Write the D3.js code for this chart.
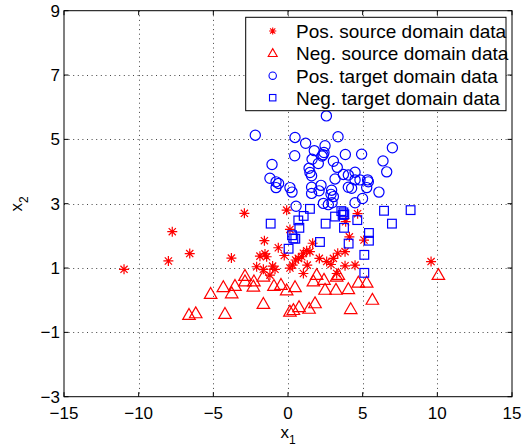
<!DOCTYPE html>
<html>
<head>
<meta charset="utf-8">
<script src="https://cdn.jsdelivr.net/npm/d3@7"></script>
<style>
  html, body { margin: 0; padding: 0; background: #fff; }
  svg { display: block; font-family: "Liberation Sans", Arial, Helvetica, sans-serif; }
</style>
</head>
<body>
<svg id="chart" width="525" height="448"></svg>
<script>
// Two-domain toy data: source (red) and target (blue), positive and negative classes.
const posSource = [
  [-10.98, 0.96], [-8.01, 1.22], [-7.75, 2.13], [-6.58, 1.45], [-3.79, 1.31],
  [-2.92, 2.70], [-0.09, 2.80], [0.13, 2.20], [-1.58, 1.85], [-1.54, 1.44],
  [-1.88, 1.37], [-1.43, 1.35], [-0.65, 1.63], [-0.25, 1.39], [-2.10, 1.04],
  [-1.65, 0.96], [-1.03, 1.06], [-0.87, 0.96], [-1.21, 0.78], [0.13, 1.00],
  [0.31, 1.09], [0.69, 1.30], [0.92, 1.35], [1.03, 1.46], [1.25, 1.54],
  [1.47, 1.51], [1.65, 1.77], [1.29, 1.09], [1.03, 0.83], [2.10, 1.30],
  [2.59, 1.20], [2.88, 1.11], [3.04, 1.30], [3.33, 1.46], [3.82, 1.51],
  [3.82, 1.07], [4.49, 1.09], [3.26, 0.83], [4.11, 1.97], [3.86, 2.44],
  [4.66, 2.69], [5.09, 1.87], [9.58, 1.20], [0.51, 1.25]
];
const negSource = [
  [-6.63, -0.46], [-6.18, -0.41], [-4.22, -0.43], [-5.18, 0.19], [-4.33, 0.40],
  [-3.77, 0.21], [-3.55, 0.44], [-2.88, 0.75], [-2.88, 0.58], [-2.32, 0.42],
  [-1.65, 0.73], [-1.65, -0.12], [-0.94, 0.44], [-0.47, 0.47], [-0.09, 0.30],
  [0.47, 0.40], [0.13, -0.36], [0.36, -0.31], [0.74, -0.22], [1.41, -0.27],
  [1.81, -0.10], [1.70, 0.58], [1.92, 0.78], [2.41, 0.63], [2.48, 0.32],
  [3.21, 0.32], [3.26, 0.73], [3.37, 0.78], [4.04, 0.34], [4.20, -0.28],
  [4.71, 0.54], [5.27, 0.54], [5.65, 0.01], [10.07, 0.78], [-2.28, 0.58]
];
const posTarget = [
  [2.57, 5.73], [-2.19, 5.13], [0.47, 5.06], [3.35, 5.08], [1.18, 4.88],
  [2.48, 4.80], [1.76, 4.65], [2.41, 4.59], [2.28, 4.48], [6.99, 4.74],
  [4.93, 4.54], [3.84, 4.53], [0.45, 4.49], [-1.07, 4.22], [6.36, 4.33],
  [6.61, 3.99], [1.61, 4.38], [2.03, 4.25], [3.04, 4.32], [3.30, 4.13],
  [1.41, 4.10], [1.47, 3.97], [1.58, 3.87], [4.04, 3.89], [4.49, 3.98],
  [4.82, 3.74], [-1.21, 3.79], [-0.80, 3.68], [-0.63, 3.63], [-0.80, 3.50],
  [0.13, 3.50], [0.27, 3.36], [1.58, 3.51], [2.21, 3.57], [2.08, 3.40],
  [1.58, 3.32], [3.15, 3.77], [2.92, 3.42], [2.88, 3.29], [4.04, 3.51],
  [4.26, 3.48], [4.49, 3.74], [5.27, 3.50], [5.38, 3.68], [5.33, 3.74],
  [6.09, 3.36], [4.99, 3.16], [4.49, 3.03], [0.54, 2.92], [2.37, 3.01],
  [2.70, 2.97], [2.95, 3.03], [3.04, 3.22], [3.71, 3.91], [2.35, 4.52]
];
const negTarget = [
  [-1.16, 2.38], [1.47, 2.84], [1.05, 2.62], [0.69, 2.48], [0.76, 2.25],
  [0.27, 2.02], [0.36, 1.92], [0.49, 1.91], [0.04, 1.60], [2.14, 1.81],
  [2.52, 2.38], [3.15, 2.60], [3.57, 2.77], [3.71, 2.73], [3.77, 2.67],
  [3.66, 2.65], [3.75, 2.25], [4.64, 2.49], [4.06, 1.76], [6.43, 2.78],
  [6.96, 2.38], [8.21, 2.80], [5.42, 2.09], [5.42, 1.85], [5.11, 1.41],
  [5.11, 0.85]
];

const xTicks = [-15, -10, -5, 0, 5, 10, 15];
const yTicks = [-3, -1, 1, 3, 5, 7, 9];
const legendLabels = [
  "Pos. source domain data",
  "Neg. source domain data",
  "Pos. target domain data",
  "Neg. target domain data"
];

const RED = "#ff0000", BLUE = "#0000ff";
const plot = { left: 64, right: 512, top: 10.7, bottom: 396.7 };

const svg = d3.select("#chart");
const x = d3.scaleLinear().domain([-15, 15]).range([plot.left, plot.right]);
const y = d3.scaleLinear().domain([-3, 9]).range([plot.bottom, plot.top]);
const fmt = v => (v < 0 ? "\u2212" + Math.abs(v) : String(v));

// Dotted grid at inner ticks
const grid = svg.append("g").attr("stroke", "#444").attr("stroke-width", 1)
  .attr("stroke-dasharray", "1,3.6");
grid.selectAll("line.gx").data(xTicks.slice(1, -1)).join("line")
  .attr("x1", d => Math.round(x(d)) + 0.5).attr("x2", d => Math.round(x(d)) + 0.5)
  .attr("y1", plot.top).attr("y2", plot.bottom);
grid.selectAll("line.gy").data(yTicks.slice(1, -1)).join("line")
  .attr("y1", d => Math.round(y(d)) + 0.5).attr("y2", d => Math.round(y(d)) + 0.5)
  .attr("x1", plot.left).attr("x2", plot.right);

// Marker painters
function star(g, r) {
  const d = r * 0.72;
  g.append("path").attr("d",
    `M${-r},0L${r},0M0,${-r}L0,${r}M${-d},${-d}L${d},${d}M${-d},${d}L${d},${-d}`);
}
function tri(g, s) {
  const h = s * 0.87;
  g.append("path").attr("d", `M0,${-h * 0.6}L${s / 2},${h * 0.4}L${-s / 2},${h * 0.4}Z`);
}
function circ(g, r) { g.append("circle").attr("r", r); }
function sq(g, s) { g.append("rect").attr("x", -s / 2).attr("y", -s / 2).attr("width", s).attr("height", s); }

const series = [
  { data: posSource, color: RED, draw: g => star(g, 5), legend: g => star(g, 3.6) },
  { data: negSource, color: RED, draw: g => tri(g, 12.5), legend: g => tri(g, 9) },
  { data: posTarget, color: BLUE, draw: g => circ(g, 5.1), legend: g => circ(g, 3.7) },
  { data: negTarget, color: BLUE, draw: g => sq(g, 8.7), legend: g => sq(g, 6.4) }
];

const marks = svg.append("g");
series.forEach(s => {
  const g = marks.append("g").attr("fill", "none").attr("stroke", s.color).attr("stroke-width", 1.2);
  g.selectAll("g").data(s.data).join("g")
    .attr("transform", d => `translate(${x(d[0])},${y(d[1])})`)
    .each(function () { s.draw(d3.select(this)); });
});

// Axes box with inward ticks on all four sides
const tl = 4.5;
const axes = svg.append("g").attr("stroke", "#000").attr("stroke-width", 1).attr("fill", "none");
axes.append("rect").attr("x", plot.left).attr("y", plot.top)
  .attr("width", plot.right - plot.left).attr("height", plot.bottom - plot.top);
xTicks.forEach(v => {
  const px = x(v);
  axes.append("line").attr("x1", px).attr("x2", px).attr("y1", plot.bottom).attr("y2", plot.bottom - tl);
  axes.append("line").attr("x1", px).attr("x2", px).attr("y1", plot.top).attr("y2", plot.top + tl);
});
yTicks.forEach(v => {
  const py = y(v);
  axes.append("line").attr("y1", py).attr("y2", py).attr("x1", plot.left).attr("x2", plot.left + tl);
  axes.append("line").attr("y1", py).attr("y2", py).attr("x1", plot.right).attr("x2", plot.right - tl);
});

// Tick labels
svg.append("g").selectAll("text").data(xTicks).join("text")
  .attr("x", d => x(d)).attr("y", 418.5).attr("text-anchor", "middle")
  .attr("font-size", 17).attr("fill", "#000").text(fmt);
svg.append("g").selectAll("text").data(yTicks).join("text")
  .attr("x", 60).attr("y", d => y(d) + 6).attr("text-anchor", "end")
  .attr("font-size", 17).attr("fill", "#000").text(fmt);

// Axis titles
const xl = svg.append("text").attr("x", 288).attr("y", 438).attr("text-anchor", "middle")
  .attr("font-size", 17).attr("fill", "#000");
xl.append("tspan").text("x");
xl.append("tspan").attr("font-size", 12).attr("dy", 6).text("1");

const yl = svg.append("text").attr("transform", "translate(22,204) rotate(-90)")
  .attr("text-anchor", "middle").attr("font-size", 17).attr("fill", "#000");
yl.append("tspan").text("x");
yl.append("tspan").attr("font-size", 12).attr("dy", 6).text("2");

// Legend
const lg = svg.append("g");
lg.append("rect").attr("x", 245.7).attr("y", 17.3).attr("width", 260.3).attr("height", 93.4)
  .attr("fill", "#fff").attr("stroke", "#000").attr("stroke-width", 1);
const rowY = [31, 53.3, 75.7, 97.7];
series.forEach((s, i) => {
  const g = lg.append("g").attr("transform", `translate(272.7,${rowY[i]})`)
    .attr("fill", "none").attr("stroke", s.color).attr("stroke-width", 1.1);
  s.legend(g);
  lg.append("text").attr("x", 296).attr("y", rowY[i] + 6.8)
    .attr("font-size", 19).attr("fill", "#000").text(legendLabels[i]);
});
</script>
</body>
</html>
